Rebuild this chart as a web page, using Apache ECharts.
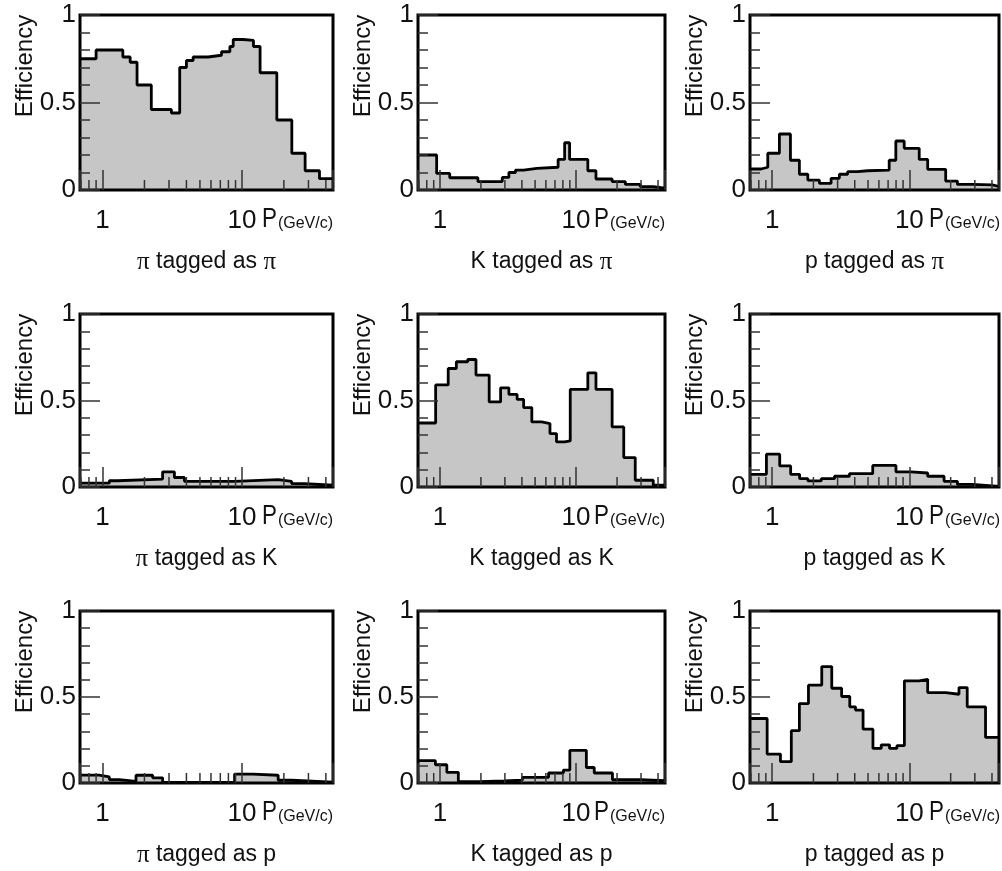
<!DOCTYPE html>
<html>
<head>
<meta charset="utf-8">
<script src="https://cdn.jsdelivr.net/npm/echarts@6/dist/echarts.min.js"></script>
<style>
  html, body { margin: 0; padding: 0; background: #fff; }
  #chart { width: 1002px; height: 871px; }
</style>
</head>
<body>
<div id="chart"></div>
<script>
// Momentum bin edges (GeV/c) and tagging efficiency per bin, one pair per panel.
const edgesPiPi = [0.69, 0.90, 1.40, 1.58, 1.77, 2.24, 3.12, 3.58, 4.0, 4.47, 5.73, 7.14, 8.2, 8.66, 10.2, 12.1, 13.5, 17.8, 22.8, 28.4, 36, 45];
const effPiPi   = [0.75, 0.80, 0.76, 0.73, 0.60, 0.46, 0.44, 0.70, 0.74, 0.76, 0.77, 0.79, 0.82, 0.86, 0.855, 0.82, 0.67, 0.40, 0.21, 0.11, 0.065];

const edgesKPi = [0.69, 0.946, 1.18, 1.90, 2.87, 3.21, 3.59, 4.12, 5.15, 7.38, 8.24, 8.96, 12.2, 14.0, 18.4, 23.0, 29.6, 36.9, 45];
const effKPi   = [0.20, 0.095, 0.07, 0.048, 0.072, 0.10, 0.114, 0.124, 0.13, 0.175, 0.27, 0.175, 0.11, 0.063, 0.048, 0.032, 0.019, 0.01];

const edgesPPi = [0.69, 0.83, 0.93, 1.13, 1.36, 1.58, 1.82, 2.21, 2.69, 3.09, 3.55, 4.20, 4.96, 7.13, 7.97, 9.17, 11.8, 13.6, 18.4, 22.4, 28.8, 40.3, 45];
const effPPi   = [0.12, 0.13, 0.21, 0.32, 0.17, 0.09, 0.057, 0.038, 0.067, 0.09, 0.105, 0.11, 0.114, 0.17, 0.28, 0.238, 0.175, 0.118, 0.051, 0.032, 0.029, 0.02];

const edgesPiK = [0.69, 1.12, 1.28, 2.70, 3.28, 3.87, 8.86, 18.2, 22.7, 28.3, 45];
const effPiK   = [0.022, 0.036, 0.046, 0.088, 0.055, 0.033, 0.043, 0.033, 0.02, 0.01];

const edgesKK = [0.69, 0.93, 1.15, 1.32, 1.60, 1.84, 2.30, 2.79, 3.21, 3.69, 4.12, 4.73, 5.60, 6.43, 7.18, 8.24, 9.06, 12.2, 14.0, 18.4, 22.4, 27.2, 36.9, 45];
const effKK   = [0.37, 0.59, 0.685, 0.724, 0.737, 0.647, 0.492, 0.573, 0.535, 0.506, 0.459, 0.376, 0.367, 0.309, 0.261, 0.266, 0.564, 0.66, 0.564, 0.347, 0.17, 0.039, 0.01];

const edgesPK = [0.69, 0.909, 1.136, 1.365, 1.586, 1.824, 2.28, 2.85, 3.66, 5.41, 7.99, 10.3, 13.6, 17.9, 22.4, 28.8, 45];
const effPK   = [0.073, 0.19, 0.122, 0.073, 0.048, 0.035, 0.048, 0.062, 0.077, 0.125, 0.087, 0.081, 0.062, 0.033, 0.015, 0.004];

const edgesPiP = [0.69, 0.946, 1.12, 1.32, 1.74, 2.29, 2.70, 8.86, 12.0, 18.2, 22.7, 45];
const effPiP   = [0.046, 0.035, 0.02, 0.01, 0.045, 0.03, 0.004, 0.052, 0.045, 0.016, 0.005];

const edgesKP = [0.69, 0.926, 1.124, 1.365, 1.96, 2.97, 4.03, 6.28, 8.07, 9.0, 11.9, 13.6, 18.5, 29.7, 45];
const effKP   = [0.13, 0.106, 0.062, 0.008, 0.012, 0.016, 0.033, 0.058, 0.075, 0.19, 0.09, 0.058, 0.019, 0.013];

const edgesPP = [0.69, 0.92, 1.15, 1.38, 1.58, 1.84, 2.30, 2.72, 3.21, 3.68, 4.05, 4.60, 5.43, 6.24, 7.17, 8.11, 9.20, 11.8, 13.6, 18.4, 23.0, 26.4, 35.9, 45];
const effPP   = [0.375, 0.168, 0.124, 0.304, 0.462, 0.569, 0.677, 0.551, 0.503, 0.443, 0.424, 0.313, 0.201, 0.222, 0.201, 0.217, 0.594, 0.603, 0.526, 0.516, 0.555, 0.443, 0.265];

const panelTitles = [
  'π tagged as π', 'K tagged as π', 'p tagged as π',
  'π tagged as K', 'K tagged as K', 'p tagged as K',
  'π tagged as p', 'K tagged as p', 'p tagged as p'
];

// Axis ticks and labels
const xRange = [0.69, 45];
const xMajorLabels = { 1: '1', 10: '10' };
const xMinorTickValues = [0.7, 0.8, 0.9, 2, 3, 4, 5, 6, 7, 8, 9, 20, 30, 40];
const yTickLabels = { 0: '0', 0.5: '0.5', 1: '1' };

const panels = [
  { edges: edgesPiPi, eff: effPiPi }, { edges: edgesKPi, eff: effKPi }, { edges: edgesPPi, eff: effPPi },
  { edges: edgesPiK, eff: effPiK },   { edges: edgesKK, eff: effKK },   { edges: edgesPK, eff: effPK },
  { edges: edgesPiP, eff: effPiP },   { edges: edgesKP, eff: effKP },   { edges: edgesPP, eff: effPP }
];

// Frame layout of the 3x3 grid (pixels)
const colLeft = [80, 418, 750];
const colWidth = [253, 247, 250];
const rowTop = [15, 314, 611];
const rowHeight = [175, 173, 172];

const FONT = '"Liberation Sans", Arial, Helvetica, sans-serif';
const INK = '#111';

const grids = [], xAxes = [], yAxes = [], series = [], graphics = [];

panels.forEach((pnl, i) => {
  const r = Math.floor(i / 3), c = i % 3;
  const L = colLeft[c], T = rowTop[r], W = colWidth[c], H = rowHeight[r];

  grids.push({
    left: L, top: T, width: W, height: H,
    show: true, borderColor: '#000', borderWidth: 3,
    backgroundColor: 'transparent', z: 10
  });

  xAxes.push({
    type: 'log', logBase: 10, gridIndex: i,
    min: xRange[0], max: xRange[1], z: 11,
    axisLine: { show: false },
    axisTick: { show: true, inside: true, length: 20, lineStyle: { color: '#333', width: 1.5 } },
    minorTick: { show: false },
    splitLine: { show: false },
    axisLabel: {
      margin: 18, fontSize: 26, color: INK, fontFamily: FONT,
      formatter: v => {
        for (const k in xMajorLabels) if (Math.abs(v - Number(k)) < 1e-6) return xMajorLabels[k];
        return '';
      }
    },
    name: panelTitles[i].replace(/π/g, '{pi|π}'),
    nameLocation: 'middle', nameGap: 72,
    nameTextStyle: {
      fontSize: 23, color: INK, fontFamily: FONT, verticalAlign: 'middle',
      rich: { pi: { fontSize: 25, fontFamily: '"Liberation Serif", "DejaVu Serif", serif', color: INK } }
    }
  });

  yAxes.push({
    type: 'value', gridIndex: i, min: 0, max: 1, interval: 0.5, z: 11,
    axisLine: { show: false },
    axisTick: { show: true, inside: true, length: 20, lineStyle: { color: '#333', width: 1.5 } },
    minorTick: { show: true, splitNumber: 5, length: 10, lineStyle: { color: '#333', width: 1.5 } },
    splitLine: { show: false },
    minorSplitLine: { show: false },
    axisLabel: {
      margin: 4, fontSize: 26, color: INK, fontFamily: FONT,
      formatter: v => yTickLabels[v] !== undefined ? yTickLabels[v] : ''
    }
  });

  // Histogram outline and fill: each bin holds its value up to the next edge
  series.push({
    type: 'line', xAxisIndex: i, yAxisIndex: i, step: 'end',
    symbol: 'none', z: 2, silent: true,
    lineStyle: { color: '#000', width: 2.8 },
    areaStyle: { color: '#c6c6c6', opacity: 1 },
    data: pnl.edges.map((e, k) => [e, pnl.eff[Math.min(k, pnl.eff.length - 1)]])
  });

  // Minor ticks of the logarithmic momentum axis
  series.push({
    type: 'custom', xAxisIndex: i, yAxisIndex: i, z: 11, silent: true, clip: false,
    data: xMinorTickValues.map(v => [v, 0]),
    renderItem: (params, api) => {
      const p = api.coord([api.value(0), 0]);
      return {
        type: 'line',
        shape: { x1: p[0], y1: p[1], x2: p[0], y2: p[1] - 10 },
        style: { stroke: '#333', lineWidth: 1.5 }
      };
    }
  });

  // Rotated y-axis title
  graphics.push({
    type: 'text', x: L - 55, y: T + 51, rotation: Math.PI / 2,
    style: { text: 'Efficiency', fontSize: 24, fontFamily: FONT, fill: INK, align: 'center', verticalAlign: 'middle' }
  });
  // Momentum axis unit
  const base = T + H + 39;
  graphics.push({
    type: 'text', x: L + W - 56, y: base - 0.3465 * 28, scaleX: 0.8,
    style: { text: 'P', fontSize: 28, fontFamily: FONT, fill: INK, align: 'right', verticalAlign: 'middle' }
  });
  graphics.push({
    type: 'text', x: L + W, y: base - 0.3465 * 16,
    style: { text: '(GeV/c)', fontSize: 16, fontFamily: FONT, fill: INK, align: 'right', verticalAlign: 'middle' }
  });
});

const chart = echarts.init(document.getElementById('chart'), null, { renderer: 'canvas' });
chart.setOption({
  animation: false,
  backgroundColor: '#fff',
  grid: grids,
  xAxis: xAxes,
  yAxis: yAxes,
  series: series,
  graphic: { elements: graphics }
});
</script>
</body>
</html>
